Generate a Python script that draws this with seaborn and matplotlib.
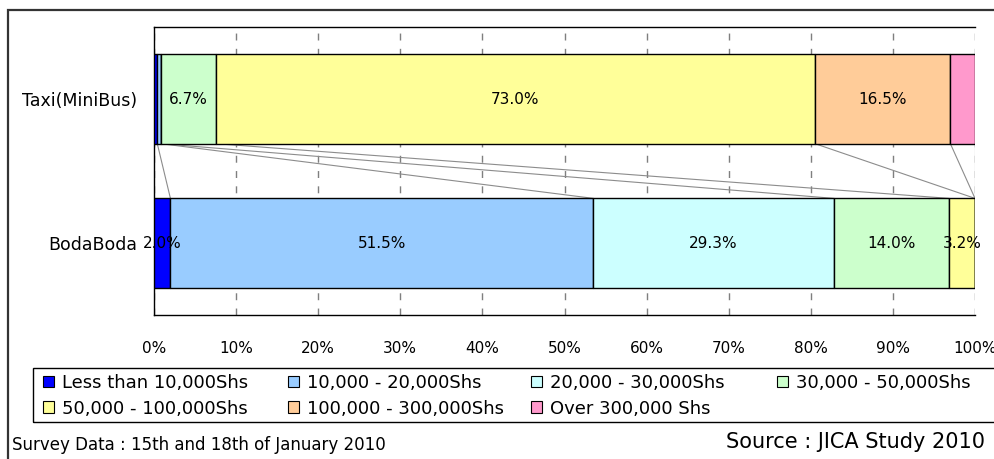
import numpy as np
import pandas as pd
import matplotlib
matplotlib.use("Agg")
import matplotlib.pyplot as plt
from matplotlib.patches import Rectangle, Patch
import seaborn as sns

# ---- data -------------------------------------------------------------
modes = ["Taxi(MiniBus)", "BodaBoda"]
income_bands = [
    "Less than 10,000Shs",
    "10,000 - 20,000Shs",
    "20,000 - 30,000Shs",
    "30,000 - 50,000Shs",
    "50,000 - 100,000Shs",
    "100,000 - 300,000Shs",
    "Over 300,000 Shs",
]
taxi_share = [0.4, 0.4, 0.0, 6.7, 73.0, 16.5, 3.0]
boda_share = [2.0, 51.5, 29.3, 14.0, 3.2, 0.0, 0.0]
# which segments carry a value label
taxi_labelled = [False, False, False, True, True, True, False]
boda_labelled = [True, True, True, True, True, False, False]
band_colors = ["#0000FF", "#99CCFF", "#CCFFFF", "#CCFFCC", "#FFFF99", "#FFCC99", "#FF99CC"]
x_ticks = [0, 10, 20, 30, 40, 50, 60, 70, 80, 90, 100]
x_tick_labels = [f"{t}%" for t in x_ticks]

# ---- figure -----------------------------------------------------------
sns.set_theme(style="white")
plt.rcParams["font.family"] = ["DejaVu Sans"]
plt.rcParams["text.color"] = "black"
plt.rcParams["xtick.labelcolor"] = "black"
plt.rcParams["ytick.labelcolor"] = "black"

W, H = 995, 459
fig = plt.figure(figsize=(W / 100, H / 100), dpi=100)
ax = fig.add_axes([154 / W, 1 - 315 / H, (975 - 154) / W, (315 - 27) / H])

# outer chart frame
fig.patches.append(Rectangle((8 / W, -0.1), 1.2, 1.1 - 10 / H, transform=fig.transFigure,
                             fill=False, edgecolor="#333333", linewidth=1.6, zorder=0))

shares = np.array([taxi_share, boda_share])
starts = np.cumsum(shares, axis=1) - shares
ends = np.cumsum(shares, axis=1)
bar_h = 0.62

for k, band in enumerate(income_bands):
    df = pd.DataFrame({"mode": modes, "share": shares[:, k]})
    sns.barplot(data=df, x="share", y="mode", orient="h", order=modes,
                left=starts[:, k], width=bar_h, color=band_colors[k],
                edgecolor="black", linewidth=1.0, errorbar=None, ax=ax,
                saturation=1, zorder=3)

# value labels in the segment centres
for k, cont in enumerate(ax.containers):
    labs = []
    for i, flags in enumerate([taxi_labelled, boda_labelled]):
        labs.append(f"{shares[i, k]:.1f}%" if flags[k] else "")
    ax.bar_label(cont, labels=labs, label_type="center", fontsize=11, color="black", zorder=5)

# series lines joining the segment ends of the two bars
for k in range(len(income_bands)):
    ax.plot([ends[0, k], ends[1, k]], [0 + bar_h / 2, 1 - bar_h / 2],
            color="#8c8c8c", linewidth=0.8, zorder=2)

ax.set_xlim(0, 100)
ax.set_ylim(1.5, -0.5)
ax.set_xticks(x_ticks)
ax.set_xticklabels(x_tick_labels, fontsize=11)
ax.set_yticks([0, 1])
ax.set_yticklabels(modes, fontsize=12.5)
ax.set_yticks([-0.5, 0.5, 1.5], minor=True)
ax.set_xlabel("")
ax.set_ylabel("")

ax.xaxis.grid(True, color="#7f7f7f", linestyle=(0, (5, 6)), linewidth=1.0)
ax.yaxis.grid(False)
ax.set_axisbelow(True)

ax.tick_params(axis="x", direction="in", length=5, width=1, color="black", pad=19)
ax.tick_params(axis="y", which="major", length=0, pad=12)
ax.tick_params(axis="y", which="minor", direction="in", length=6, width=1, color="black")

for side in ["left", "bottom", "top"]:
    ax.spines[side].set_visible(True)
    ax.spines[side].set_color("black")
    ax.spines[side].set_linewidth(1.0)
ax.spines["right"].set_visible(False)

# legend: a framed strip with four equally spaced columns, filled row by row
fig.patches.append(Rectangle((33 / W, 1 - 422 / H), 1.2, 54 / H, transform=fig.transFigure,
                             fill=False, edgecolor="black", linewidth=1.0, zorder=1))
handles = [Patch(facecolor=c, edgecolor="black", linewidth=0.8) for c in band_colors]
col_x = [43, 288, 531, 777]
n_cols = len(col_x)
for j, x0 in enumerate(col_x):
    idx = list(range(j, len(income_bands), n_cols))
    fig.legend([handles[i] for i in idx], [income_bands[i] for i in idx],
               loc="upper left", bbox_to_anchor=(x0 / W, 1 - 374 / H),
               fontsize=13, frameon=False, borderpad=0, borderaxespad=0,
               handlelength=0.6, handleheight=0.6, handletextpad=0.45,
               labelspacing=0.42)

fig.text(12 / W, 1 - 445 / H, "Survey Data : 15th and 18th of January 2010",
         fontsize=12, va="center", ha="left")
fig.text(726 / W, 1 - 442 / H, "Source : JICA Study 2010",
         fontsize=15, va="center", ha="left")

fig.savefig("out.png", dpi=100)
